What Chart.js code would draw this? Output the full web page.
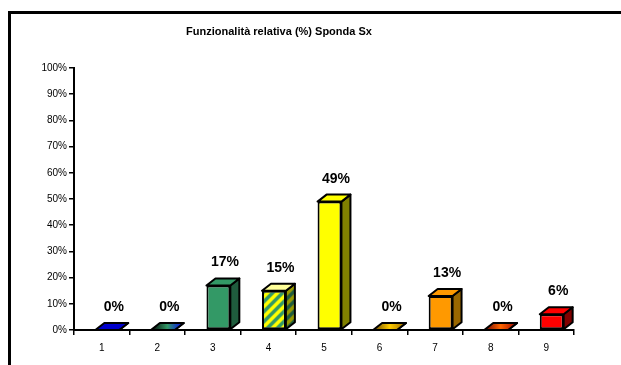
<!DOCTYPE html>
<html lang="it">
<head>
<meta charset="utf-8">
<title>Funzionalità relativa Sponda Sx</title>
<script src="https://cdn.jsdelivr.net/npm/chart.js@4/dist/chart.umd.min.js"></script>
<style>
  html, body { margin: 0; padding: 0; background: #fff; overflow: hidden; }
  #box { position: absolute; left: 0; top: 0; width: 621px; height: 365px; }
  #cornice { position: absolute; left: 8px; top: 11px; width: 700px; height: 420px;
             border: 3px solid #000; pointer-events: none; }
</style>
</head>
<body>
<div id="box"><canvas id="grafico" width="621" height="365"></canvas></div>
<div id="cornice"></div>
<script>
const titolo = 'Funzionalità relativa (%) Sponda Sx';
const categorie = ['1', '2', '3', '4', '5', '6', '7', '8', '9'];
const valori = [0, 0, 17, 15, 49, 0, 13, 0, 6];
const tickY = [0, 10, 20, 30, 40, 50, 60, 70, 80, 90, 100];
const etichetteY = ['0%', '10%', '20%', '30%', '40%', '50%', '60%', '70%', '80%', '90%', '100%'];

// profondità finta delle colonne 3D
const DX = 9, DY = 7, SPOSTA = 5.5;

function righe(fondo, riga) {
  const c = document.createElement('canvas');
  c.width = c.height = 10;
  const g = c.getContext('2d');
  g.fillStyle = fondo;
  g.fillRect(0, 0, 10, 10);
  g.strokeStyle = riga;
  g.lineWidth = 3.5;
  g.beginPath();
  g.moveTo(-5, 5); g.lineTo(5, -5);
  g.moveTo(0, 10); g.lineTo(10, 0);
  g.moveTo(5, 15); g.lineTo(15, 5);
  g.stroke();
  return g.createPattern(c, 'repeat');
}

const fronte = ['#0000cc', '#339966', '#339966', righe('#ffff00', '#339966'), '#ffff00',
                '#ff9900', '#ff9900', '#cc3300', '#ff0000'];
const lato = ['#000066', '#1f5c3d', '#1f5c3d', righe('#999900', '#1f5c3d'), '#808000',
              '#996600', '#996600', '#800000', '#800000'];
const tetto = ['#0000cc', ['#000000', '#339966', '#0000ff'], '#339966', '#ffff99', '#ffff00',
               ['#664400', '#ffcc00', '#996600'], '#ff9900', ['#660000', '#ff6600', '#990000'], '#ff0000'];

const colonne3d = {
  id: 'colonne3d',
  beforeDatasetsDraw(chart) {
    chart.ctx.save();
    chart.ctx.translate(SPOSTA, 0);
  },
  afterDatasetsDraw(chart) {
    const ctx = chart.ctx;
    chart.getDatasetMeta(0).data.forEach((bar, i) => {
      const { x, y, base, width } = bar.getProps(['x', 'y', 'base', 'width'], true);
      const l = x - width / 2, r = x + width / 2;
      ctx.lineWidth = 2;
      ctx.strokeStyle = '#000';
      ctx.lineJoin = 'round';

      // fianco destro
      ctx.beginPath();
      ctx.moveTo(r, y);
      ctx.lineTo(r + DX, y - DY);
      ctx.lineTo(r + DX, base - DY);
      ctx.lineTo(r, base);
      ctx.closePath();
      ctx.fillStyle = lato[i];
      ctx.fill();
      ctx.stroke();

      // faccia superiore
      let f = tetto[i];
      if (Array.isArray(f)) {
        const grad = ctx.createLinearGradient(l, 0, r + DX, 0);
        f.forEach((c, k) => grad.addColorStop(k / (f.length - 1), c));
        f = grad;
      }
      ctx.beginPath();
      ctx.moveTo(l, y);
      ctx.lineTo(l + DX, y - DY);
      ctx.lineTo(r + DX, y - DY);
      ctx.lineTo(r, y);
      ctx.closePath();
      ctx.fillStyle = f;
      ctx.fill();
      ctx.stroke();

      // valore sopra la colonna
      ctx.fillStyle = '#000';
      ctx.font = 'bold 14px Arial';
      ctx.textAlign = 'center';
      ctx.textBaseline = 'alphabetic';
      ctx.fillText(valori[i] + '%', x + DX / 2 + 2, y - 19);
    });
    ctx.restore();
  },
  afterDraw(chart) {
    const ctx = chart.ctx;
    ctx.save();
    ctx.fillStyle = '#000';
    ctx.font = 'bold 11px Arial';
    ctx.textAlign = 'center';
    ctx.textBaseline = 'middle';
    ctx.fillText(titolo, 279, 32);
    ctx.restore();
  }
};

new Chart(document.getElementById('grafico'), {
  type: 'bar',
  data: {
    labels: categorie,
    datasets: [{
      data: valori,
      backgroundColor: fronte,
      borderColor: '#000',
      borderWidth: 2,
      borderSkipped: false,
      barPercentage: 0.43,
      categoryPercentage: 1,
      clip: false
    }]
  },
  options: {
    responsive: false,
    animation: false,
    events: [],
    layout: { padding: { left: 30, right: 47, top: 68, bottom: 0 } },
    plugins: {
      legend: { display: false },
      title: { display: false },
      tooltip: { enabled: false }
    },
    scales: {
      x: {
        grid: { drawOnChartArea: false, drawTicks: true, tickLength: 5, color: '#000', lineWidth: 1.5, offset: true },
        border: { color: '#000', width: 2 },
        ticks: { color: '#000', font: { family: 'Arial', size: 10 }, padding: 7 },
        afterFit(s) { s.height = 35; }
      },
      y: {
        min: 0,
        max: 100,
        grid: { drawOnChartArea: false, drawTicks: true, tickLength: 5, color: '#000', lineWidth: 1.5 },
        border: { color: '#000', width: 2 },
        ticks: {
          color: '#000',
          font: { family: 'Arial', size: 10 },
          padding: 2,
          callback: (v, i) => etichetteY[i]
        },
        afterBuildTicks(s) { s.ticks = tickY.map(v => ({ value: v })); },
        afterFit(s) { s.width = 44; }
      }
    }
  },
  plugins: [colonne3d]
});
</script>
</body>
</html>
